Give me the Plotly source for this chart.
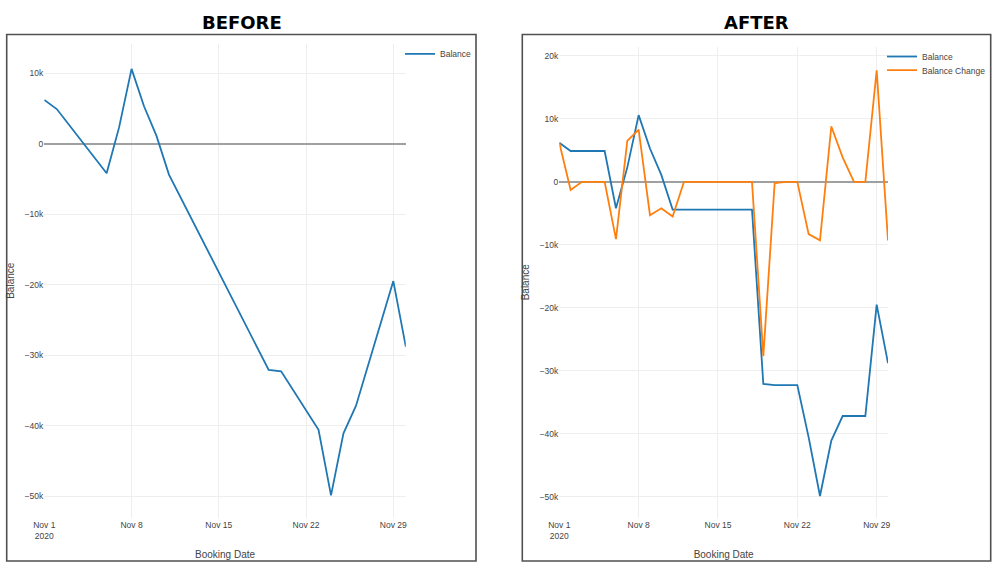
import plotly.graph_objects as go

# ---------------- data ----------------
before_dates = ["2020-11-01", "2020-11-02", "2020-11-06", "2020-11-07", "2020-11-08",
                "2020-11-09", "2020-11-10", "2020-11-11", "2020-11-19", "2020-11-20",
                "2020-11-23", "2020-11-24", "2020-11-25", "2020-11-26", "2020-11-29",
                "2020-11-30"]
before_balance = [6200, 4900, -4200, 2300, 10600, 5300, 1100, -4400, -32100, -32300,
                  -40600, -49900, -41100, -37200, -19500, -28800]

after_dates = ["2020-11-01", "2020-11-02", "2020-11-03", "2020-11-04", "2020-11-05",
               "2020-11-06", "2020-11-07", "2020-11-08", "2020-11-09", "2020-11-10",
               "2020-11-11", "2020-11-12", "2020-11-13", "2020-11-14", "2020-11-15",
               "2020-11-16", "2020-11-17", "2020-11-18", "2020-11-19", "2020-11-20",
               "2020-11-21", "2020-11-22", "2020-11-23", "2020-11-24", "2020-11-25",
               "2020-11-26", "2020-11-27", "2020-11-28", "2020-11-29", "2020-11-30"]
after_balance = [6200, 4900, 4900, 4900, 4900, -4200, 2300, 10600, 5300, 1100,
                 -4400, -4400, -4400, -4400, -4400, -4400, -4400, -4400, -32100, -32300,
                 -32300, -32300, -40600, -49900, -41100, -37200, -37200, -37200, -19500, -28800]
after_change = [6200, -1300, 0, 0, 0, -9100, 6500, 8300, -5300, -4200,
                -5500, 0, 0, 0, 0, 0, 0, 0, -27700, -200,
                0, 0, -8300, -9300, 8800, 3900, 0, 0, 17700, -9300]

panel_titles = ["BEFORE", "AFTER"]

W, H = 999, 569
BLUE, ORANGE = "#1f77b4", "#ff7f0e"
FONT = "Liberation Sans, Arial, sans-serif"

def px(x):
    return x / W

def py(y):
    return 1 - y / H

fig = go.Figure()
fig.add_trace(go.Scatter(x=before_dates, y=before_balance, mode="lines", name="Balance",
                         line=dict(color=BLUE, width=1.8), xaxis="x", yaxis="y", legend="legend"))
fig.add_trace(go.Scatter(x=after_dates, y=after_balance, mode="lines", name="Balance",
                         line=dict(color=BLUE, width=1.8), xaxis="x2", yaxis="y2", legend="legend2"))
fig.add_trace(go.Scatter(x=after_dates, y=after_change, mode="lines", name="Balance Change",
                         line=dict(color=ORANGE, width=1.8), xaxis="x2", yaxis="y2", legend="legend3"))

xcommon = dict(type="date", dtick=7 * 86400000, tick0="2020-11-01", showgrid=True,
               gridcolor="#eeeeee", gridwidth=1, zeroline=False, showline=False, ticks="",
               tickfont=dict(size=8.5, color="#444", family=FONT),
               title=dict(text="Booking Date", font=dict(size=10, color="#444", family=FONT)),
               range=["2020-11-01", "2020-11-30"])
ycommon = dict(dtick=10000, showgrid=True, gridcolor="#eeeeee", gridwidth=1,
               zeroline=True, zerolinecolor="#a0a0a0", zerolinewidth=2, showline=False,
               ticks="", tickfont=dict(size=8.5, color="#444", family=FONT),
               title=dict(text="Balance", font=dict(size=10, color="#444", family=FONT)))

legend_common = dict(xanchor="left", yanchor="top", bgcolor="rgba(0,0,0,0)",
                     font=dict(size=8.5, color="#444", family=FONT))

fig.update_layout(
    width=W, height=H, template="none",
    margin=dict(l=0, r=0, t=0, b=0),
    paper_bgcolor="white", plot_bgcolor="white",
    font=dict(family=FONT, color="#444"),
    xaxis=dict(xcommon, domain=[px(44.3), px(405.8)], anchor="y"),
    yaxis=dict(ycommon, domain=[py(518), py(43.5)], anchor="x", range=[-53100, 14200]),
    xaxis2=dict(xcommon, domain=[px(559.3), px(888)], anchor="y2"),
    yaxis2=dict(ycommon, domain=[py(518), py(46.5)], anchor="x2", range=[-53400, 21500]),
    legend=dict(legend_common, x=px(400), y=py(39.3)),
    legend2=dict(legend_common, x=px(882), y=py(42)),
    legend3=dict(legend_common, x=px(882), y=py(55.7)),
    showlegend=True,
)

# panel borders
for (x0, x1) in [(6.7, 476), (522.3, 990.7)]:
    fig.add_shape(type="rect", xref="paper", yref="paper",
                  x0=px(x0), x1=px(x1), y0=py(561), y1=py(34.5),
                  line=dict(color="#505050", width=1.6), fillcolor="rgba(0,0,0,0)", layer="above")

# panel titles
for text, cx in zip(panel_titles, [242, 756]):
    fig.add_annotation(text="<b>%s</b>" % text, xref="paper", yref="paper",
                       x=px(cx), y=py(22.5), xanchor="center", yanchor="middle",
                       showarrow=False,
                       font=dict(family="DejaVu Sans, sans-serif", size=18, color="black"))

fig.write_html("out.html",
               config={"displayModeBar": False},
               post_script="document.body.style.margin='0';document.body.style.overflow='hidden';")
